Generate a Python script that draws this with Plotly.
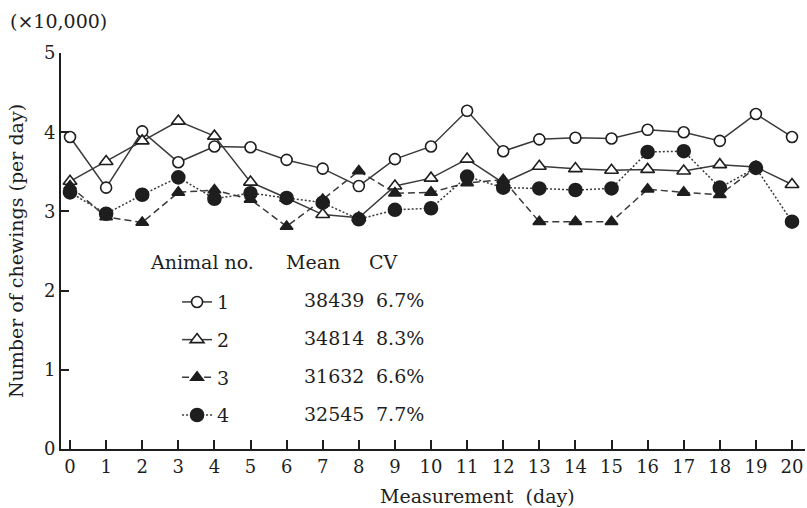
import plotly.graph_objects as go

# ---- data ----
days = list(range(21))
animal1 = [3.94, 3.30, 4.01, 3.62, 3.82, 3.81, 3.65, 3.54, 3.32, 3.66, 3.82,
           4.27, 3.76, 3.91, 3.93, 3.92, 4.03, 4.00, 3.89, 4.23, 3.94]
animal2 = [3.38, 3.63, 3.89, 4.14, 3.95, 3.37, 3.17, 2.96, 2.92, 3.32, 3.42,
           3.66, 3.36, 3.57, 3.54, 3.52, 3.53, 3.51, 3.59, 3.56, 3.34]
animal3 = [3.32, 2.93, 2.86, 3.24, 3.27, 3.15, 2.81, 3.15, 3.51, 3.23, 3.24,
           3.36, 3.40, 2.87, 2.87, 2.87, 3.28, 3.24, 3.21, 3.55, None]
animal4 = [3.24, 2.97, 3.21, 3.43, 3.16, 3.23, 3.17, 3.11, 2.90, 3.02, 3.04,
           3.44, 3.30, 3.29, 3.27, 3.29, 3.75, 3.76, 3.30, 3.55, 2.87]

animal_ids = ["1", "2", "3", "4"]
means = ["38439", "34814", "31632", "32545"]
cvs = ["6.7%", "8.3%", "6.6%", "7.7%"]
y_ticks = [0, 1, 2, 3, 4, 5]

FONT = "DejaVu Serif"
INK = "#1e1e1e"
LINE = "#3a3a3a"

fig = go.Figure()

series = [
    (animal1, "circle", "white", 11, "solid"),
    (animal2, "triangle-up", "white", 12, "solid"),
    (animal3, "triangle-up", INK, 11, "7px,4px"),
    (animal4, "circle", INK, 13, "2px,2px"),
]
for i, (vals, sym, fill, size, dash) in enumerate(series):
    fig.add_trace(go.Scatter(
        x=days, y=vals, name=animal_ids[i], mode="lines+markers",
        legendgroup=animal_ids[i],
        line=dict(color=LINE, width=1.5, dash=dash),
        marker=dict(symbol=sym, size=size, color=fill,
                    line=dict(color=INK, width=1.6)),
        connectgaps=False,
    ))

# legend table columns (header + mean + CV)
header_y = 2.36
row_y = [1.88, 1.40, 0.92, 0.44]
ann = [
    dict(x=2.16, y=header_y, text="Animal no."),
    dict(x=5.93, y=header_y, text="Mean"),
    dict(x=8.23, y=header_y, text="CV"),
]
for k in range(4):
    ann.append(dict(x=6.43, y=row_y[k], text=means[k]))
    ann.append(dict(x=8.42, y=row_y[k], text=cvs[k]))
annotations = []
for a in ann:
    annotations.append(dict(xref="x", yref="y", xanchor="left", yanchor="middle",
                            showarrow=False, font=dict(family=FONT, size=19, color=INK), **a))

annotations.append(dict(xref="paper", yref="paper", x=-0.0712, y=1.081,
                        xanchor="left", yanchor="middle", showarrow=False,
                        text="(×10,000)", font=dict(family=FONT, size=19, color=INK)))
annotations.append(dict(xref="paper", yref="paper", x=0.56, y=-0.119,
                        xanchor="center", yanchor="middle", showarrow=False,
                        text="Measurement\u00a0 (day)", font=dict(family=FONT, size=19, color=INK)))

fig.update_layout(
    width=807, height=508,
    margin=dict(l=61, r=2, t=53, b=59, pad=0),
    paper_bgcolor="white", plot_bgcolor="white",
    font=dict(family=FONT, size=18, color=INK),
    showlegend=True,
    legend=dict(x=0.156, y=0.419, xanchor="left", yanchor="top",
                font=dict(family=FONT, size=19, color=INK),
                bgcolor="rgba(0,0,0,0)", borderwidth=0,
                tracegroupgap=10, itemsizing="trace"),
    annotations=annotations,
    xaxis=dict(range=[-0.25, 20.36], tickvals=days, ticks="inside", ticklen=9,
               tickwidth=1.5, tickcolor=INK, showline=True, linewidth=2,
               linecolor=INK, showgrid=False, zeroline=False,
               tickfont=dict(family=FONT, size=18, color=INK)),
    yaxis=dict(range=[0, 5], tickvals=y_ticks, ticks="inside", ticklen=8,
               tickwidth=1.5, tickcolor=INK, showline=True, linewidth=2,
               linecolor=INK, showgrid=False, zeroline=False,
               tickfont=dict(family=FONT, size=18, color=INK),
               ticklabelstandoff=0,
               title=dict(text="Number of chewings (per day)", standoff=15,
                          font=dict(family=FONT, size=19, color=INK))),
)

fig.write_html("out.html",
               config={"displayModeBar": False},
               post_script="document.body.style.margin='0';document.body.style.overflow='hidden';")
